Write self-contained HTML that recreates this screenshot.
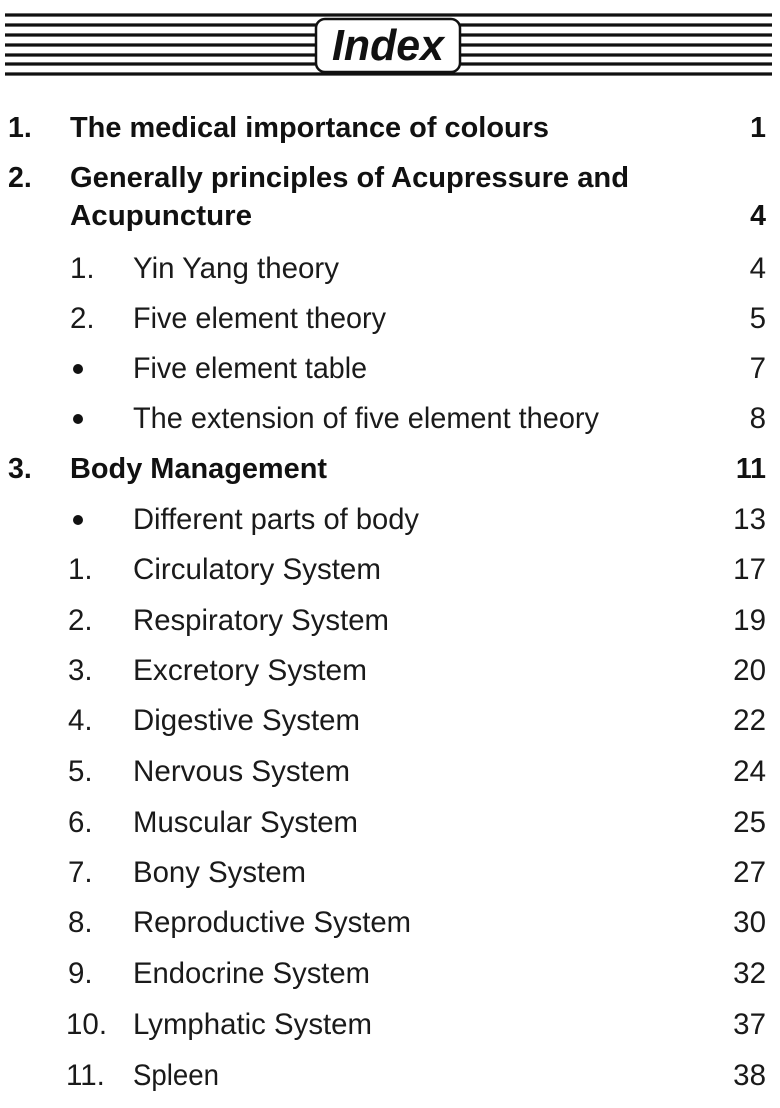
<!DOCTYPE html>
<html><head><style>
html,body{margin:0;padding:0;background:#fff;}
svg{display:block}
text{font-family:"Liberation Sans",Arial,sans-serif;fill:#1a1a1a;font-size:29.5px}
.b{font-weight:bold;fill:#111;font-size:28.5px}
</style></head><body>
<svg width="780" height="1108" viewBox="0 0 780 1108">
<g stroke="#111" stroke-width="3.2">
<line x1="5" y1="15" x2="772" y2="15"/>
<line x1="5" y1="25" x2="772" y2="25"/>
<line x1="5" y1="35" x2="772" y2="35"/>
<line x1="5" y1="45" x2="772" y2="45"/>
<line x1="5" y1="55" x2="772" y2="55"/>
<line x1="5" y1="64" x2="772" y2="64"/>
<line x1="5" y1="74" x2="772" y2="74"/>
</g>
<rect x="316" y="19" width="144" height="53" rx="9" fill="#fff" stroke="#111" stroke-width="2.5"/>
<text x="388" y="60" text-anchor="middle" class="b" style="font-size:44px;font-style:italic" textLength="112" lengthAdjust="spacingAndGlyphs">Index</text>

<text class="b" x="8" y="137">1.</text>
<text class="b" x="70" y="137" textLength="479" lengthAdjust="spacingAndGlyphs">The medical importance of colours</text>
<text class="b" x="766" y="137" text-anchor="end">1</text>
<text class="b" x="8" y="187">2.</text>
<text class="b" x="70" y="187" textLength="559" lengthAdjust="spacingAndGlyphs">Generally principles of Acupressure and</text>
<text class="b" x="70" y="225" textLength="182" lengthAdjust="spacingAndGlyphs">Acupuncture</text>
<text class="b" x="766" y="225" text-anchor="end">4</text>
<text class="b" x="8" y="478">3.</text>
<text class="b" x="70" y="478" textLength="257" lengthAdjust="spacingAndGlyphs">Body Management</text>
<text class="b" x="766" y="478" text-anchor="end">11</text>

<g>
<text x="70" y="278">1.</text><text x="133" y="278" textLength="206" lengthAdjust="spacingAndGlyphs">Yin Yang theory</text><text x="766" y="278" text-anchor="end">4</text>
<text x="70" y="328">2.</text><text x="133" y="328" textLength="253" lengthAdjust="spacingAndGlyphs">Five element theory</text><text x="766" y="328" text-anchor="end">5</text>
<circle cx="78" cy="369" r="5" fill="#111"/><text x="133" y="378" textLength="234" lengthAdjust="spacingAndGlyphs">Five element table</text><text x="766" y="378" text-anchor="end">7</text>
<circle cx="78" cy="419" r="5" fill="#111"/><text x="133" y="428" textLength="466" lengthAdjust="spacingAndGlyphs">The extension of five element theory</text><text x="766" y="428" text-anchor="end">8</text>
<circle cx="78" cy="520" r="5" fill="#111"/><text x="133" y="529" textLength="286" lengthAdjust="spacingAndGlyphs">Different parts of body</text><text x="766" y="529" text-anchor="end">13</text>
<text x="68" y="579">1.</text><text x="133" y="579" textLength="248" lengthAdjust="spacingAndGlyphs">Circulatory System</text><text x="766" y="579" text-anchor="end">17</text>
<text x="68" y="630">2.</text><text x="133" y="630" textLength="256" lengthAdjust="spacingAndGlyphs">Respiratory System</text><text x="766" y="630" text-anchor="end">19</text>
<text x="68" y="680">3.</text><text x="133" y="680" textLength="234" lengthAdjust="spacingAndGlyphs">Excretory System</text><text x="766" y="680" text-anchor="end">20</text>
<text x="68" y="730">4.</text><text x="133" y="730" textLength="227" lengthAdjust="spacingAndGlyphs">Digestive System</text><text x="766" y="730" text-anchor="end">22</text>
<text x="68" y="781">5.</text><text x="133" y="781" textLength="217" lengthAdjust="spacingAndGlyphs">Nervous System</text><text x="766" y="781" text-anchor="end">24</text>
<text x="68" y="832">6.</text><text x="133" y="832" textLength="225" lengthAdjust="spacingAndGlyphs">Muscular System</text><text x="766" y="832" text-anchor="end">25</text>
<text x="68" y="882">7.</text><text x="133" y="882" textLength="173" lengthAdjust="spacingAndGlyphs">Bony System</text><text x="766" y="882" text-anchor="end">27</text>
<text x="68" y="932">8.</text><text x="133" y="932" textLength="278" lengthAdjust="spacingAndGlyphs">Reproductive System</text><text x="766" y="932" text-anchor="end">30</text>
<text x="68" y="983">9.</text><text x="133" y="983" textLength="237" lengthAdjust="spacingAndGlyphs">Endocrine System</text><text x="766" y="983" text-anchor="end">32</text>
<text x="66" y="1034">10.</text><text x="133" y="1034" textLength="239" lengthAdjust="spacingAndGlyphs">Lymphatic System</text><text x="766" y="1034" text-anchor="end">37</text>
<text x="66" y="1085">11.</text><text x="133" y="1085" textLength="86" lengthAdjust="spacingAndGlyphs">Spleen</text><text x="766" y="1085" text-anchor="end">38</text>
</g>
</svg>
</body></html>
